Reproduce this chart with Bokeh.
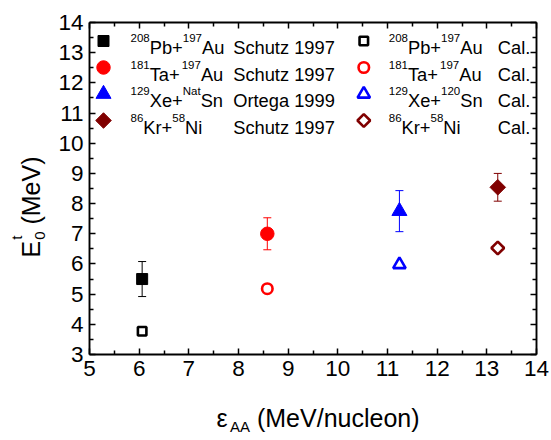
import math

from bokeh.plotting import figure
from bokeh.models import (ColumnDataSource, Whisker, TeeHead, Label, LinearAxis,
                          Range1d, FixedTicker, CustomJSTickFormatter)
from bokeh.embed import file_html
from bokeh.resources import INLINE

FONT = "Liberation Sans"

# Beam energy per nucleon (MeV/nucleon) of each reaction
eps_aa = [6.06, 8.58, 11.24, 13.22]
# Experimental E0^t (MeV) with uncertainties
e0_exp = [5.50, 7.00, 7.75, 8.54]
e0_err = [0.58, 0.53, 0.68, 0.46]
# Calculated E0^t (MeV)
e0_cal = [3.77, 5.18, 5.98, 6.53]

# Legend texts: projectile mass / symbol, target mass / symbol, reference
proj_mass = ["208", "181", "129", "86"]
proj_sym = ["Pb+", "Ta+", "Xe+", "Kr+"]
targ_mass_exp = ["197", "197", "Nat", "58"]
targ_mass_cal = ["197", "197", "120", "58"]
targ_sym = ["Au", "Au", "Sn", "Ni"]
refs = ["Schutz 1997", "Schutz 1997", "Ortega 1999", "Schutz 1997"]
cal_text = "Cal."

x_ticks = list(range(5, 15))
y_ticks = list(range(3, 15))
X_LO, X_HI = 5, 14
Y_LO, Y_HI = 3, 14

# styling per series
colors = ["#000000", "#ff0000", "#0000ff", "#800000"]
markers = ["square", "circle", "triangle", "square"]
angles = [0, 0, 0, math.pi / 4]
size_filled = [11, 13.5, 15, 11]
size_open = [8.5, 10.5, 12.5, 9]
OPEN_LW = 2.6

# canvas and axes box geometry (px); the axes are pinned inside a full-canvas frame
W, H = 551, 440
BOX_L, BOX_R, BOX_T, BOX_B = 89, 536, 22, 354
kx = (BOX_R - BOX_L) / (X_HI - X_LO)
ky = (BOX_B - BOX_T) / (Y_HI - Y_LO)

p = figure(width=W, height=H, min_border=0,
           x_range=Range1d(X_LO - BOX_L / kx, X_HI + (W - BOX_R) / kx),
           y_range=Range1d(Y_LO - (H - BOX_B) / ky, Y_HI + BOX_T / ky),
           x_axis_type=None, y_axis_type=None,
           output_backend="svg", toolbar_location=None)
p.outline_line_color = None
p.background_fill_color = "white"
p.border_fill_color = "white"

# pixel ranges used to place legend swatches
p.extra_x_ranges = {"px": Range1d(0, W)}
p.extra_y_ranges = {"py": Range1d(0, H)}


def make_axis(ticks, lo, hi, loc, labelled):
    minor = [t + 0.5 for t in ticks[:-1]]
    ax = LinearAxis(ticker=FixedTicker(ticks=ticks, minor_ticks=minor),
                    fixed_location=loc, bounds=(lo, hi))
    ax.major_tick_in = 6
    ax.major_tick_out = 0
    ax.minor_tick_in = 4
    ax.minor_tick_out = 0
    ax.axis_line_width = 1.9
    ax.major_tick_line_width = 1.5
    ax.minor_tick_line_width = 1.5
    ax.axis_line_color = "black"
    ax.major_tick_line_color = "black"
    ax.minor_tick_line_color = "black"
    if labelled:
        ax.major_label_text_font = FONT
        ax.major_label_text_font_size = "22.5px"
        ax.major_label_text_color = "black"
        ax.major_label_standoff = 6
    else:
        ax.formatter = CustomJSTickFormatter(code="return ''")
        ax.major_label_standoff = 0
    return ax


p.add_layout(make_axis(x_ticks, X_LO, X_HI, Y_LO, True), "below")
p.add_layout(make_axis(y_ticks, Y_LO, Y_HI, X_LO, True), "left")
p.add_layout(make_axis(x_ticks, X_LO, X_HI, Y_HI, False), "above")
p.add_layout(make_axis(y_ticks, Y_LO, Y_HI, X_HI, False), "right")

# error bars, experimental points, calculated points
for i in range(len(eps_aa)):
    c = colors[i]
    src = ColumnDataSource(dict(x=[eps_aa[i]],
                                upper=[e0_exp[i] + e0_err[i]],
                                lower=[e0_exp[i] - e0_err[i]]))
    p.add_layout(Whisker(source=src, base="x", upper="upper", lower="lower",
                         line_color=c, line_width=1,
                         upper_head=TeeHead(size=8, line_color=c, line_width=1),
                         lower_head=TeeHead(size=8, line_color=c, line_width=1)))
    p.scatter([eps_aa[i]], [e0_exp[i]], marker=markers[i], angle=angles[i],
              size=size_filled[i], fill_color=c, line_color=c, line_width=1)
    p.scatter([eps_aa[i]], [e0_cal[i]], marker=markers[i], angle=angles[i],
              size=size_open[i], fill_color="white", line_color=c, line_width=OPEN_LW)

# Arial / Liberation Sans advance widths (em)
AW = {"P": .667, "b": .556, "+": .584, "T": .611, "a": .556, "X": .667, "e": .556,
      "K": .667, "r": .333, "N": .722, "t": .278, "A": .667, "u": .556, "S": .667,
      "n": .556, "i": .222, " ": .278, "E": .667, "(": .333, ")": .333, "M": .833,
      "V": .667, "ε": .5}


def tw(s, size):
    return sum(AW.get(ch, .556) for ch in s) * size


def text(cx, cy, s, size, angle=0.0, color="black"):
    """Place text with its baseline start at canvas pixel (cx, cy)."""
    p.add_layout(Label(x=cx, y=H - cy, x_units="screen", y_units="screen",
                       text=s, text_font=FONT, text_font_size=f"{size}px",
                       text_color=color, text_align="left", text_baseline="alphabetic",
                       angle=angle))


# legend
LEG_Y0, LEG_DY = 40.5, 26.5
SW_X = [103, 363.3]
TXT_X = [130, 388.3]
REF_X = [232.7, 497.3]
MAIN, SUP, SUP_RISE = 18.3, 11.5, 9.5

for col in range(2):
    for i in range(4):
        cy = LEG_Y0 + i * LEG_DY
        c = colors[i]
        if col == 0:
            p.scatter([SW_X[col]], [H - cy], x_range_name="px", y_range_name="py",
                      marker=markers[i], angle=angles[i], size=size_filled[i],
                      fill_color=c, line_color=c, line_width=1)
        else:
            p.scatter([SW_X[col]], [H - cy], x_range_name="px", y_range_name="py",
                      marker=markers[i], angle=angles[i], size=size_open[i],
                      fill_color="white", line_color=c, line_width=OPEN_LW)
        base = cy + 6.8
        x = TXT_X[col]
        tm = targ_mass_exp[i] if col == 0 else targ_mass_cal[i]
        for s, sz in ((proj_mass[i], SUP), (proj_sym[i], MAIN), (tm, SUP), (targ_sym[i], MAIN)):
            text(x, base - (SUP_RISE if sz == SUP else 0), s, sz)
            x += tw(s, sz)
        text(REF_X[col], base, refs[i] if col == 0 else cal_text, MAIN)

AX, AXS = 25, 15
SUB_DROP = 9

# x axis title: eps_AA (MeV/nucleon)
xb, x0 = 417, 216
text(x0, xb, "ε", AX)
xs = x0 + tw("ε", AX) + 1
text(xs, xb + SUB_DROP, "AA", AXS)
text(xs + tw("AA", AXS) + tw(" ", AX), xb, "(MeV/nucleon)", AX)

# y axis title: E_0^t (MeV), rotated
yb, y0 = 30, 257
text(yb, y0, "E", AX, angle=math.pi / 2)
ys = y0 - tw("E", AX) - 1
text(yb - 14, ys, "t", AXS, angle=math.pi / 2)
text(yb + SUB_DROP, ys, "0", AXS, angle=math.pi / 2)
text(yb, ys - tw("0", AXS) - tw(" ", AX), "(MeV)", AX, angle=math.pi / 2)

open("out.html", "w").write(file_html(p, INLINE))
